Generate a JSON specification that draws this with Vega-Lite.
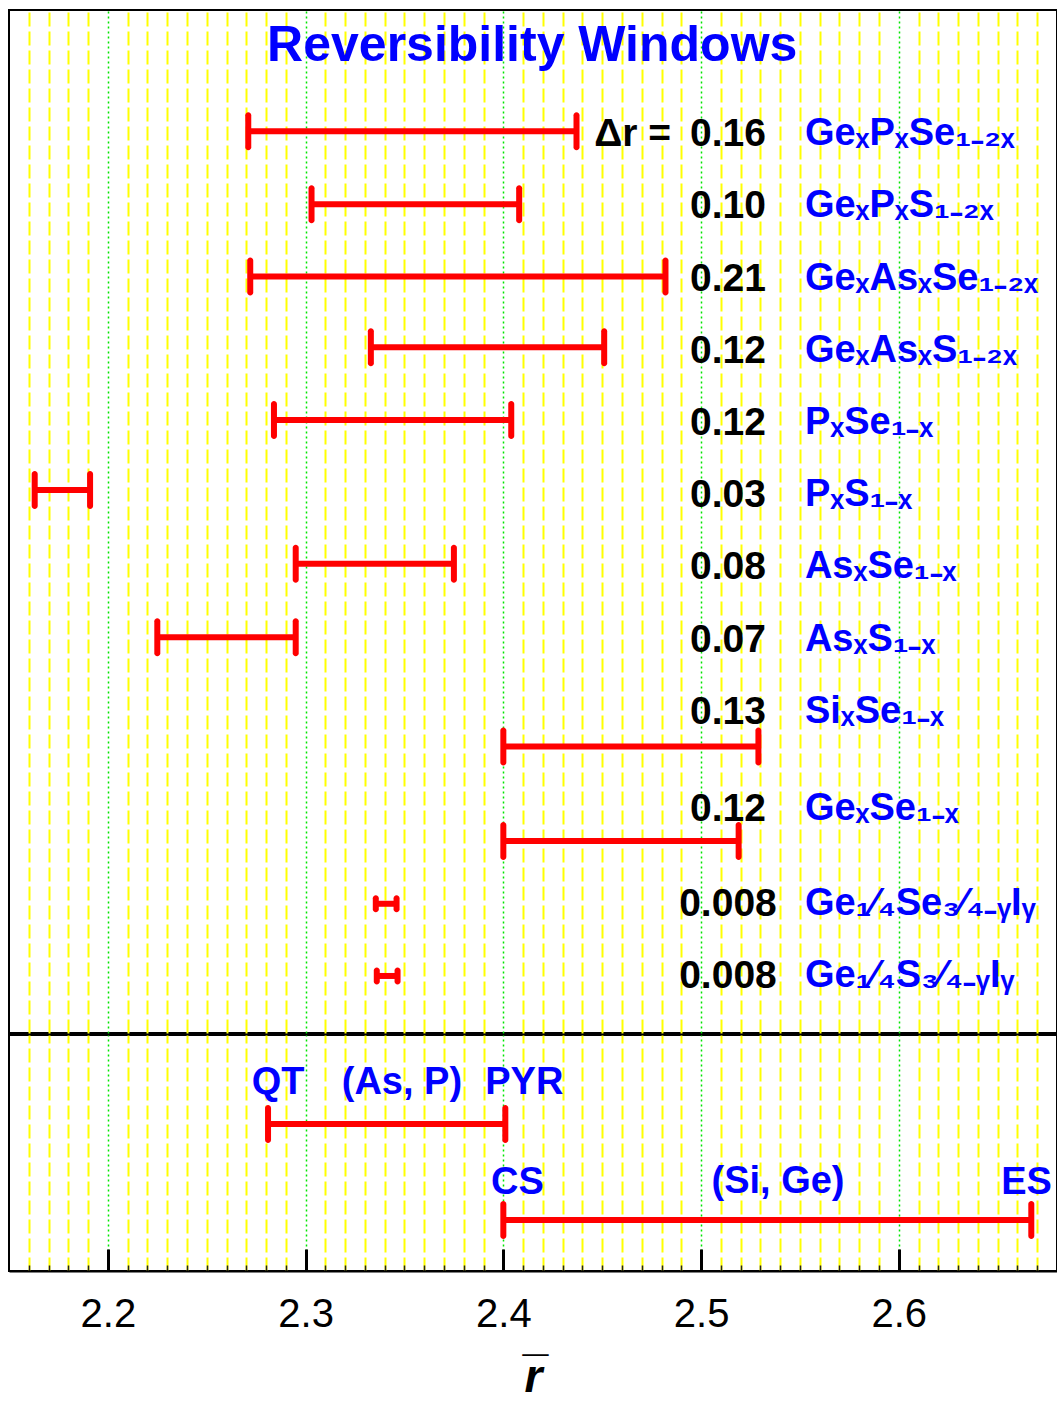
{
  "$schema": "https://vega.github.io/schema/vega-lite/v6.json",
  "background": "white",
  "padding": {"left": 8, "top": 9, "right": 1, "bottom": 0},
  "spacing": 0,
  "config": {
    "font": "Liberation Sans",
    "view": {"stroke": "black", "strokeWidth": 2},
    "tick": {"orient": "vertical"}
  },
  "datasets": {
    "windows": [
      {"system": "GeₓPₓSe₁₋₂ₓ", "lo": 2.271, "hi": 2.437, "dr": "0.16", "row": 1, "bar_row": 0.96},
      {"system": "GeₓPₓS₁₋₂ₓ", "lo": 2.303, "hi": 2.408, "dr": "0.10", "row": 2, "bar_row": 1.97},
      {"system": "GeₓAsₓSe₁₋₂ₓ", "lo": 2.272, "hi": 2.482, "dr": "0.21", "row": 3, "bar_row": 2.97},
      {"system": "GeₓAsₓS₁₋₂ₓ", "lo": 2.333, "hi": 2.451, "dr": "0.12", "row": 4, "bar_row": 3.95},
      {"system": "PₓSe₁₋ₓ", "lo": 2.284, "hi": 2.404, "dr": "0.12", "row": 5, "bar_row": 4.96},
      {"system": "PₓS₁₋ₓ", "lo": 2.163, "hi": 2.191, "dr": "0.03", "row": 6, "bar_row": 5.93},
      {"system": "AsₓSe₁₋ₓ", "lo": 2.295, "hi": 2.375, "dr": "0.08", "row": 7, "bar_row": 6.95},
      {"system": "AsₓS₁₋ₓ", "lo": 2.225, "hi": 2.295, "dr": "0.07", "row": 8, "bar_row": 7.97},
      {"system": "SiₓSe₁₋ₓ", "lo": 2.4, "hi": 2.529, "dr": "0.13", "row": 9, "bar_row": 9.48},
      {"system": "GeₓSe₁₋ₓ", "lo": 2.4, "hi": 2.519, "dr": "0.12", "row": 10.35, "bar_row": 10.79},
      {"system": "Ge₁⁄₄Se₃⁄₄₋ᵧIᵧ", "lo": 2.3355, "hi": 2.346, "dr": "0.008", "row": 11.66, "bar_row": 11.66},
      {"system": "Ge₁⁄₄S₃⁄₄₋ᵧIᵧ", "lo": 2.336, "hi": 2.3465, "dr": "0.008", "row": 12.66, "bar_row": 12.66}
    ],
    "phases": [
      {"phase": "(As, P)", "lo": 2.281, "hi": 2.401, "row": 1},
      {"phase": "(Si, Ge)", "lo": 2.4, "hi": 2.667, "row": 2}
    ],
    "phase_labels": [
      {"label": "QT", "r": 2.2861, "row": 0.573},
      {"label": "(As, P)", "r": 2.3487, "row": 0.573},
      {"label": "PYR", "r": 2.4106, "row": 0.573},
      {"label": "CS", "r": 2.4071, "row": 1.61},
      {"label": "(Si, Ge)", "r": 2.5389, "row": 1.6},
      {"label": "ES", "r": 2.6646, "row": 1.61}
    ]
  },
  "vconcat": [
    {
      "width": 1048,
      "height": 1023,
      "data": {"name": "windows"},
      "encoding": {
        "x": {
          "type": "quantitative",
          "scale": {"domain": [2.15, 2.68], "nice": false, "zero": false},
          "axis": {
            "orient": "bottom",
            "values": [2.16,2.17,2.18,2.19,2.2,2.21,2.22,2.23,2.24,2.25,2.26,2.27,2.28,2.29,2.3,2.31,2.32,2.33,2.34,2.35,2.36,2.37,2.38,2.39,2.4,2.41,2.42,2.43,2.44,2.45,2.46,2.47,2.48,2.49,2.5,2.51,2.52,2.53,2.54,2.55,2.56,2.57,2.58,2.59,2.6,2.61,2.62,2.63,2.64,2.65,2.66,2.67],
            "grid": true,
            "gridColor": {"condition": {"test": "abs(datum.value*10 - round(datum.value*10)) < 0.01", "value": "#00e600"}, "value": "#ffff00"},
            "gridDash": {"condition": {"test": "abs(datum.value*10 - round(datum.value*10)) < 0.01", "value": [2, 3]}, "value": [14, 5]},
            "gridWidth": {"condition": {"test": "abs(datum.value*10 - round(datum.value*10)) < 0.01", "value": 1.5}, "value": 2},
            "gridOpacity": 1,
            "labels": false,
            "ticks": false,
            "domain": false,
            "title": null
          }
        },
        "y": {
          "type": "quantitative",
          "scale": {"domain": [-0.72, 13.45], "reverse": true, "nice": false, "zero": false},
          "axis": null
        }
      },
      "layer": [
        {
          "mark": {"type": "rule", "color": "#ff0000", "strokeWidth": 6},
          "encoding": {
            "x": {"field": "lo", "type": "quantitative"},
            "x2": {"field": "hi"},
            "y": {"field": "bar_row", "type": "quantitative"}
          }
        },
        {
          "mark": {"type": "tick", "color": "#ff0000", "thickness": 6, "cornerRadius": 3, "opacity": 1, "orient": "vertical"},
          "encoding": {
            "x": {"field": "lo", "type": "quantitative"},
            "y": {"field": "bar_row", "type": "quantitative"},
            "size": {"condition": {"test": "datum.hi - datum.lo < 0.02", "value": 17}, "value": 38}
          }
        },
        {
          "mark": {"type": "tick", "color": "#ff0000", "thickness": 6, "cornerRadius": 3, "opacity": 1, "orient": "vertical"},
          "encoding": {
            "x": {"field": "hi", "type": "quantitative"},
            "y": {"field": "bar_row", "type": "quantitative"},
            "size": {"condition": {"test": "datum.hi - datum.lo < 0.02", "value": 17}, "value": 38}
          }
        },
        {
          "mark": {"type": "text", "color": "black", "fontSize": 39, "fontWeight": "bold", "align": "center", "baseline": "middle"},
          "encoding": {
            "x": {"datum": 2.5136, "type": "quantitative"},
            "y": {"field": "row", "type": "quantitative"},
            "text": {"field": "dr"}
          }
        },
        {
          "mark": {"type": "text", "color": "#0000ff", "fontSize": 38, "fontWeight": "bold", "align": "left", "baseline": "middle"},
          "encoding": {
            "x": {"datum": 2.5525, "type": "quantitative"},
            "y": {"field": "row", "type": "quantitative"},
            "text": {"field": "system"}
          }
        },
        {
          "data": {"values": [{"label": "Δr =", "row": 1}]},
          "mark": {"type": "text", "color": "black", "fontSize": 39, "fontWeight": "bold", "align": "right", "baseline": "middle"},
          "encoding": {
            "x": {"datum": 2.4848, "type": "quantitative"},
            "y": {"field": "row", "type": "quantitative"},
            "text": {"field": "label"}
          }
        },
        {
          "data": {"values": [{"label": "Reversibility Windows", "row": -0.22}]},
          "mark": {"type": "text", "color": "#0000ff", "fontSize": 50, "fontWeight": "bold", "align": "center", "baseline": "middle"},
          "encoding": {
            "x": {"datum": 2.4146, "type": "quantitative"},
            "y": {"field": "row", "type": "quantitative"},
            "text": {"field": "label"}
          }
        }
      ]
    },
    {
      "width": 1048,
      "height": 236,
      "resolve": {"axis": {"x": "independent"}},
      "encoding": {
        "y": {
          "type": "quantitative",
          "scale": {"domain": [0.073, 2.53], "reverse": true, "nice": false, "zero": false},
          "axis": null
        }
      },
      "layer": [
        {
          "data": {"name": "phases"},
          "mark": {"type": "rule", "color": "#ff0000", "strokeWidth": 6},
          "encoding": {
            "x": {
              "field": "lo",
              "type": "quantitative",
              "scale": {"domain": [2.15, 2.68], "nice": false, "zero": false},
              "axis": {
                "orient": "bottom",
                "values": [2.16,2.17,2.18,2.19,2.21,2.22,2.23,2.24,2.25,2.26,2.27,2.28,2.29,2.31,2.32,2.33,2.34,2.35,2.36,2.37,2.38,2.39,2.41,2.42,2.43,2.44,2.45,2.46,2.47,2.48,2.49,2.51,2.52,2.53,2.54,2.55,2.56,2.57,2.58,2.59,2.61,2.62,2.63,2.64,2.65,2.66,2.67],
                "grid": true,
                "gridColor": "#ffff00",
                "gridDash": [14, 5],
                "gridWidth": 2,
                "gridOpacity": 1,
                "ticks": true,
                "tickColor": "#222222",
                "tickSize": -6,
                "tickWidth": 1.5,
                "domain": false,
                "labels": false,
                "title": null
              }
            },
            "x2": {"field": "hi"},
            "y": {"field": "row", "type": "quantitative"}
          }
        },
        {
          "data": {"name": "phases"},
          "mark": {"type": "tick", "color": "#ff0000", "thickness": 6, "cornerRadius": 3, "opacity": 1, "size": 38, "orient": "vertical"},
          "encoding": {
            "x": {
              "field": "lo",
              "type": "quantitative",
              "axis": {
                "orient": "bottom",
                "values": [2.2, 2.3, 2.4, 2.5, 2.6],
                "grid": true,
                "gridColor": "#00e600",
                "gridDash": [2, 3],
                "gridWidth": 1.5,
                "gridOpacity": 1,
                "ticks": true,
                "tickColor": "black",
                "tickSize": -22,
                "tickWidth": 3,
                "domain": true,
                "domainColor": "black",
                "domainWidth": 2,
                "format": ".1f",
                "labelFontSize": 40,
                "labelColor": "black",
                "labelPadding": 45,
                "labelFlush": false,
                "title": "r̅",
                "titleFontSize": 46,
                "titleFontStyle": "italic",
                "titleFontWeight": "bold",
                "titleColor": "black",
                "titlePadding": 21
              }
            },
            "y": {"field": "row", "type": "quantitative"}
          }
        },
        {
          "data": {"name": "phases"},
          "mark": {"type": "tick", "color": "#ff0000", "thickness": 6, "cornerRadius": 3, "opacity": 1, "size": 38, "orient": "vertical"},
          "encoding": {
            "x": {"field": "hi", "type": "quantitative", "axis": null},
            "y": {"field": "row", "type": "quantitative"}
          }
        },
        {
          "data": {"name": "phase_labels"},
          "mark": {"type": "text", "color": "#0000ff", "fontSize": 38, "fontWeight": "bold", "align": "center", "baseline": "middle"},
          "encoding": {
            "x": {"field": "r", "type": "quantitative", "axis": null},
            "y": {"field": "row", "type": "quantitative"},
            "text": {"field": "label"}
          }
        }
      ]
    }
  ]
}
